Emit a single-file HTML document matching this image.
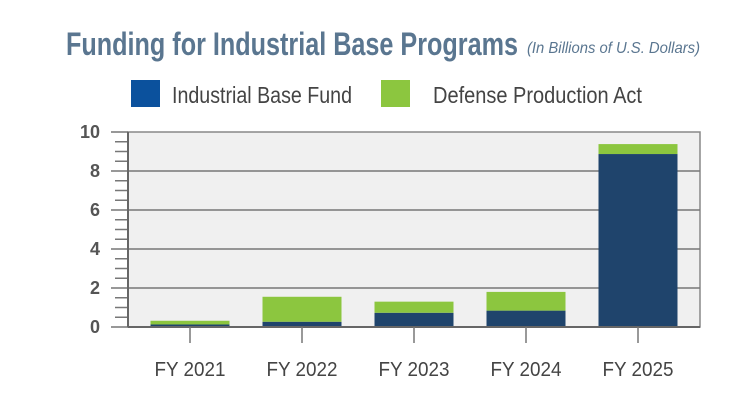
<!DOCTYPE html>
<html><head><meta charset="utf-8"><style>
body{margin:0;background:#fff;width:747px;height:402px;overflow:hidden}
svg{display:block}
text{font-family:"Liberation Sans Narrow","Liberation Sans",sans-serif}
</style></head><body>
<svg id="chart" width="747" height="402">
<text x="66" y="55" font-size="32" font-weight="bold" fill="#5a7690" textLength="452" lengthAdjust="spacingAndGlyphs">Funding for Industrial Base Programs</text>
<text x="527" y="53" font-size="16" font-style="italic" fill="#5a7690" textLength="173" lengthAdjust="spacingAndGlyphs">(In Billions of U.S. Dollars)</text>
<g>
<rect x="131" y="80" width="29" height="27" fill="#0b519d"/>
<text x="172" y="103" font-size="23" fill="#444" textLength="180" lengthAdjust="spacingAndGlyphs">Industrial Base Fund</text>
<rect x="381" y="80" width="29" height="27" fill="#8cc63f"/>
<text x="433" y="103" font-size="23" fill="#444" textLength="209" lengthAdjust="spacingAndGlyphs">Defense Production Act</text>
</g>
<rect x="128" y="132" width="572" height="195" fill="#f0f0f0" stroke="#888" stroke-width="1.5"/>
<g id="grid"></g><g id="bars"></g><g id="axes"></g>
</svg>
<script>
const categories=["FY 2021","FY 2022","FY 2023","FY 2024","FY 2025"];
const ibfValues=[0.13,0.27,0.73,0.84,8.87];
const dpaValues=[0.19,1.28,0.57,0.96,0.51];
const yTicks=[0,2,4,6,8,10];
const NS="http://www.w3.org/2000/svg";
const L=128,R=700,T=132,B=327,yMax=10;
function y(v){return B-(v/yMax)*(B-T);}
function xc(i){return 190+i*112;}
const BW=79;
function mk(tag,attrs,parent){const e=document.createElementNS(NS,tag);for(const k in attrs)e.setAttribute(k,attrs[k]);parent.appendChild(e);return e;}
const grid=document.getElementById('grid'),bars=document.getElementById('bars'),axes=document.getElementById('axes');
for(let v=0;v<=yMax;v+=0.5){
  const major=Math.abs(v/2-Math.round(v/2))<1e-9;
  const t=mk('line',{x1:major?111:115,x2:L,y1:y(v),y2:y(v),stroke:'#777','stroke-width':1.5},axes);
  
  
}
yTicks.forEach(v=>{
  if(v>0&&v<yMax){const g=mk('line',{x1:L,x2:R,y1:y(v),y2:y(v),stroke:'#777','stroke-width':1.5},grid);
  
  }
  const t=mk('text',{x:100,y:y(v)+6,'font-size':18,'font-weight':'bold',fill:'#555','text-anchor':'end'},axes);
  t.textContent=v;
  
  
});
mk('line',{x1:L,x2:L,y1:T,y2:B,stroke:'#666','stroke-width':2},axes);
mk('line',{x1:L,x2:R,y1:B,y2:B,stroke:'#666','stroke-width':2},axes);
categories.forEach((c,i)=>{
  const x=xc(i)-BW/2;
  const b1=mk('rect',{x:x,y:y(ibfValues[i]),width:BW,height:B-y(ibfValues[i]),fill:'#1f446c'},bars);
  
  
  const top=ibfValues[i]+dpaValues[i];
  const b2=mk('rect',{x:x,y:y(top),width:BW,height:y(ibfValues[i])-y(top),fill:'#8cc63f'},bars);
  
  
  const tk=mk('line',{x1:xc(i),x2:xc(i),y1:B,y2:343,stroke:'#777','stroke-width':1.5},axes);
  
  
  const t=mk('text',{x:xc(i),y:376,'font-size':20,fill:'#444','text-anchor':'middle',textLength:71,lengthAdjust:'spacingAndGlyphs'},axes);
  t.textContent=c;
  
  
});
</script>
</body></html>
